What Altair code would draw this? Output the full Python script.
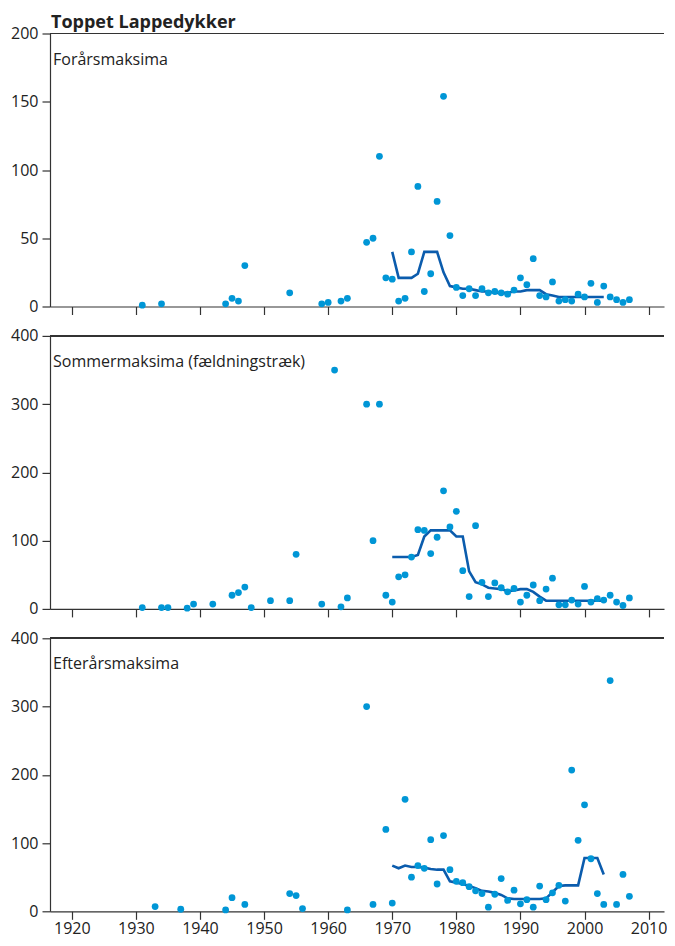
import altair as alt
import pandas as pd

FONT = "Open Sans"

# ---------------- data ----------------
spring_years = [1931, 1934, 1944, 1945, 1946, 1947, 1954, 1959, 1960, 1962, 1963,
                1966, 1967, 1968, 1969, 1970, 1971, 1972, 1973, 1974, 1975, 1976,
                1977, 1978, 1979, 1980, 1981, 1982, 1983, 1984, 1985, 1986, 1987,
                1988, 1989, 1990, 1991, 1992, 1993, 1994, 1995, 1996, 1997, 1998,
                1999, 2000, 2001, 2002, 2003, 2004, 2005, 2006, 2007]
spring_vals = [1, 2, 2, 6, 4, 30, 10, 2, 3, 4, 6,
               47, 50, 110, 21, 20, 4, 6, 40, 88, 11, 24,
               77, 154, 52, 14, 8, 13, 8, 13, 10, 11, 10,
               9, 12, 21, 16, 35, 8, 7, 18, 4, 5, 4,
               9, 7, 17, 3, 15, 7, 5, 3, 5]

summer_years = [1931, 1934, 1935, 1938, 1939, 1942, 1945, 1946, 1947, 1948, 1951,
                1954, 1955, 1959, 1961, 1962, 1963, 1966, 1967, 1968, 1969, 1970,
                1971, 1972, 1973, 1974, 1975, 1976, 1977, 1978, 1979, 1980, 1981,
                1982, 1983, 1984, 1985, 1986, 1987, 1988, 1989, 1990, 1991, 1992,
                1993, 1994, 1995, 1996, 1997, 1998, 1999, 2000, 2001, 2002, 2003,
                2004, 2005, 2006, 2007]
summer_vals = [2, 2, 2, 1, 7, 7, 20, 24, 32, 2, 12,
               12, 80, 7, 350, 3, 16, 300, 100, 300, 20, 10,
               47, 50, 76, 116, 115, 81, 105, 173, 120, 143, 56,
               18, 122, 39, 18, 38, 31, 25, 30, 10, 20, 35,
               12, 29, 45, 6, 6, 13, 7, 33, 10, 15, 13,
               20, 10, 5, 16]

autumn_years = [1933, 1937, 1944, 1945, 1947, 1954, 1955, 1956, 1963, 1966, 1967,
                1969, 1970, 1972, 1973, 1974, 1975, 1976, 1977, 1978, 1979, 1980,
                1981, 1982, 1983, 1984, 1985, 1986, 1987, 1988, 1989, 1990, 1991,
                1992, 1993, 1994, 1995, 1996, 1997, 1998, 1999, 2000, 2001, 2002,
                2003, 2004, 2005, 2006, 2007]
autumn_vals = [7, 3, 2, 20, 10, 26, 23, 4, 2, 300, 10,
               120, 12, 164, 50, 67, 63, 105, 40, 111, 61, 44,
               42, 36, 30, 26, 6, 25, 48, 16, 31, 11, 17,
               6, 37, 17, 27, 38, 15, 207, 104, 156, 77, 26,
               10, 338, 10, 54, 22]

trend_years = [1970, 1971, 1972, 1973, 1974, 1975, 1976, 1977, 1978, 1979,
               1980, 1981, 1982, 1983, 1984, 1985, 1986, 1987, 1988, 1989,
               1990, 1991, 1992, 1993, 1994, 1995, 1996, 1997, 1998, 1999,
               2000, 2001, 2002, 2003]
spring_trend = [40, 21, 21, 21, 24, 40, 40, 40, 25, 15,
                14, 13, 13, 12, 11, 11, 10, 10, 10, 11,
                11, 12, 12, 12, 9, 8, 7, 7, 7, 7,
                7, 7, 7, 7]
summer_trend = [76, 76, 76, 76, 79, 106, 115, 115, 115, 115,
                106, 106, 55, 39, 36, 31, 30, 29, 26, 27,
                29, 29, 25, 18, 12, 12, 12, 12, 12, 12,
                12, 12, 12, 12]
autumn_trend = [67, 63, 67, 65, 65, 64, 62, 61, 61, 44,
                42, 40, 37, 34, 30, 29, 27, 24, 19, 18,
                18, 18, 18, 18, 19, 28, 37, 38, 38, 38,
                78, 78, 78, 54]

x_ticks = [1920, 1930, 1940, 1950, 1960, 1970, 1980, 1990, 2000, 2010]
main_title = "Toppet Lappedykker"
titles = ["Forårsmaksima", "Sommermaksima (fældningstræk)", "Efterårsmaksima"]
y_max = [200, 400, 400]
y_ticks = [[0, 50, 100, 150, 200], [0, 100, 200, 300, 400], [0, 100, 200, 300, 400]]

W, H = 614, 273
DOT = "#0096d6"
LINE = "#0b5cad"
AX = "#333333"
TXT = "#222222"


def panel(years, vals, tvals, idx, show_labels):
    pts = pd.DataFrame({"year": years, "value": vals})
    trd = pd.DataFrame({"year": trend_years, "value": tvals})
    xs = alt.Scale(domain=[1916.6, 2012.4], nice=False, zero=False)
    ys = alt.Scale(domain=[0, y_max[idx]], nice=False)
    xax = alt.Axis(values=x_ticks, format="d", labels=show_labels, title=None,
                   grid=False, tickSize=8, labelPadding=1)
    yax = alt.Axis(values=y_ticks[idx], title=None, grid=False, tickSize=8,
                   labelPadding=4)
    line = alt.Chart(trd).mark_line(color=LINE, strokeWidth=2.6).encode(
        x=alt.X("year:Q", scale=xs, axis=xax),
        y=alt.Y("value:Q", scale=ys, axis=yax),
    )
    dots = alt.Chart(pts).mark_circle(color=DOT, size=46, opacity=1).encode(
        x=alt.X("year:Q", scale=xs, axis=xax),
        y=alt.Y("value:Q", scale=ys, axis=yax),
    )
    top = alt.Chart(pts).mark_rule(color=AX, strokeWidth=1.2).encode(
        x=alt.value(0), x2=alt.value(W), y=alt.value(0)
    )
    lab = alt.Chart(pd.DataFrame({"t": [titles[idx]]})).mark_text(
        align="left", baseline="alphabetic", font=FONT, fontSize=16, color=TXT
    ).encode(x=alt.value(3), y=alt.value(31), text="t:N")
    layers = [top, line, dots, lab]
    if idx == 0:
        head = alt.Chart(pd.DataFrame({"t": [main_title]})).mark_text(
            align="left", baseline="alphabetic", font=FONT, fontSize=18,
            fontWeight="bold", color=TXT
        ).encode(x=alt.value(1), y=alt.value(-6), text="t:N")
        layers.append(head)
    return alt.layer(*layers).properties(width=W, height=H)


chart = alt.vconcat(
    panel(spring_years, spring_vals, spring_trend, 0, False),
    panel(summer_years, summer_vals, summer_trend, 1, False),
    panel(autumn_years, autumn_vals, autumn_trend, 2, True),
    spacing=29.4,
    bounds="flush",
).properties(
    padding={"left": 2, "top": 5.5, "right": 0, "bottom": 1.5},
).configure_view(stroke=None).configure_axis(
    domainColor=AX, domainWidth=1.2, tickColor=AX, tickWidth=1.2,
    labelFont=FONT, labelFontSize=16, labelColor=TXT
)

chart.save("out.html", embed_options={"renderer": "svg", "actions": False})
